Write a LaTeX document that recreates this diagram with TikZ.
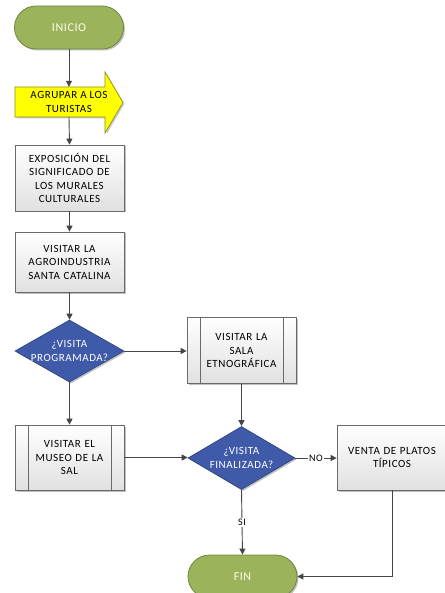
\documentclass[tikz,border=0pt]{standalone}
\usepackage{fontspec}
\setmainfont{Carlito}[LetterSpace=5]
\usetikzlibrary{shapes.geometric,arrows.meta,shadows,calc}

\definecolor{termfill}{HTML}{9BB35B}
\definecolor{termdraw}{HTML}{6E873D}
\definecolor{decfill}{HTML}{3F5AA8}
\definecolor{decdraw}{HTML}{2E4580}
\definecolor{boxdraw}{HTML}{6A6A6A}
\definecolor{linec}{HTML}{454545}
\definecolor{yelfill}{HTML}{FFFF00}
\definecolor{yeldraw}{HTML}{8E8E1A}

\tikzset{
  lbl/.style={font=\fontsize{11}{13.5}\selectfont, align=center},
  myshadow/.style={drop shadow={shadow xshift=1.5pt, shadow yshift=-1.5pt, opacity=0.25, fill=black}},
  term/.style={rectangle, rounded corners=21.5pt, minimum width=109pt, minimum height=43pt,
    fill=termfill, draw=termdraw, line width=0.8pt, text=white!92!yellow,
    font=\fontsize{12}{14}\selectfont, myshadow},
  procbox/.style={lbl, rectangle, minimum width=109pt, draw=boxdraw, line width=0.7pt,
    top color=white, bottom color=black!12, text width=100pt, inner sep=0pt, myshadow},
  decision/.style={diamond, minimum width=109pt, minimum height=62pt, inner sep=0pt,
    fill=decfill, draw=decdraw, line width=0.7pt, myshadow},
  dectext/.style={lbl, text=white, inner sep=0pt},
  conn/.style={draw=linec, line width=0.9pt, -{Triangle[length=6pt,width=6pt]}},
  edgelbl/.style={fill=white, inner sep=1pt, font=\fontsize{10}{12}\selectfont}
}

\begin{document}
\begin{tikzpicture}[x=1pt,y=-1pt]
\useasboundingbox (0,0) rectangle (444,593);

% start
\node[term] (inicio) at (69,27.5) {INICIO};

% yellow arrow shape
\fill[black, opacity=0.2, shift={(1.5,1.5)}] (15,87) -- (105,87) -- (105,72) -- (123,102.5) -- (105,133) -- (105,117) -- (15,117) -- cycle;
\draw[fill=yelfill, draw=yeldraw, line width=0.7pt] (15,87) -- (105,87) -- (105,72) -- (123,102.5) -- (105,133) -- (105,117) -- (15,117) -- cycle;
\node[lbl, minimum width=70pt, minimum height=30pt, inner sep=0pt] (agrupar) at (69,102) {AGRUPAR A LOS\\TURISTAS};

\node[procbox, minimum height=66pt] (expo) at (69.5,178) {EXPOSICIÓN DEL\\SIGNIFICADO DE\\LOS MURALES\\CULTURALES};
\node[procbox, minimum height=60pt] (agro) at (69.5,262) {VISITAR LA\\AGROINDUSTRIA\\SANTA CATALINA};
\node[decision] (d1) at (69.5,351) {};
\node[dectext] (d1t) at (d1.center) {¿VISITA\\PROGRAMADA?};
\node[procbox, minimum height=66pt] (sala) at (241.5,350.5) {VISITAR LA\\SALA\\ETNOGRÁFICA};
\node[procbox, minimum height=65pt] (museo) at (69.5,457.5) {VISITAR EL\\MUSEO DE LA\\SAL};
\node[decision, minimum width=107pt, minimum height=63pt] (d2) at (241.5,458) {};
\node[dectext] (d2t) at (d2.center) {¿VISITA\\FINALIZADA?};
\node[procbox, minimum width=110pt, minimum height=65pt] (venta) at (392,457.5) {VENTA DE PLATOS\\TÍPICOS};
\node[term] (fin) at (242.5,576.5) {FIN};

% predefined-process side bars
\foreach \n in {sala,museo}{
  \draw[boxdraw, line width=0.7pt] ($(\n.north west)+(13.5,0)$) -- ($(\n.south west)+(13.5,0)$);
  \draw[boxdraw, line width=0.7pt] ($(\n.north east)+(-13.5,0)$) -- ($(\n.south east)+(-13.5,0)$);
}

% connectors
\draw[conn] (inicio.south) -- (agrupar.north);
\draw[conn] (agrupar.south) -- (expo.north);
\draw[conn] (expo.south) -- (agro.north);
\draw[conn] (agro.south) -- (d1.north);
\draw[conn] (d1.east) -- (d1.east -| sala.west);
\draw[conn] (d1.south) -- (museo.north);
\draw[conn] (sala.south) -- (d2.north);
\draw[conn] (museo.east) -- (museo.east -| d2.west);
\draw[conn] (d2.east) -- node[edgelbl] (no) {NO} (d2.east -| venta.west);
\draw[conn] (d2.south) -- node[edgelbl] (si) {SI} (fin.north);
\draw[conn] (venta.south) |- (fin.east);
\end{tikzpicture}
\end{document}
